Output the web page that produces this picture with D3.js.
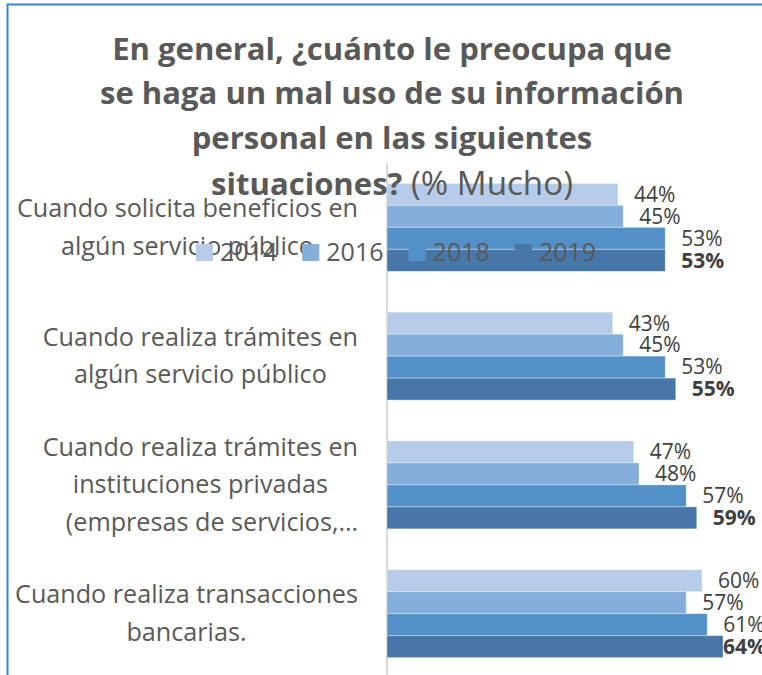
<!DOCTYPE html>
<html>
<head>
<meta charset="utf-8">
<script src="https://cdn.jsdelivr.net/npm/d3@7"></script>
<style>
  html, body { margin: 0; padding: 0; background: #fff; }
  svg { display: block; font-family: "Open Sans", "Noto Sans", sans-serif; }
</style>
</head>
<body>
<svg id="chart" width="762" height="675"></svg>
<script>
// --- Данные ---
const categories = [
  ["Cuando solicita beneficios en", "algún servicio público"],
  ["Cuando realiza trámites en", "algún servicio público"],
  ["Cuando realiza trámites en", "instituciones privadas", "(empresas de servicios,…"],
  ["Cuando realiza transacciones", "bancarias."]
];
const years = ["2014", "2016", "2018", "2019"];
const values2014 = [44, 43, 47, 60];
const values2016 = [45, 45, 48, 57];
const values2018 = [53, 53, 57, 61];
const values2019 = [53, 55, 59, 64];
const seriesValues = [values2014, values2016, values2018, values2019];
const colors = ["#b7cce8", "#85aedb", "#5390c8", "#4677a8"];
const titleLines = [
  "En general, ¿cuánto le preocupa que",
  "se haga un mal uso de su información",
  "personal en las siguientes"
];

const svg = d3.select("#chart");
const width = 762, height = 675;

svg.append("rect").attr("width", width).attr("height", height).attr("fill", "#fff");

// рамка
svg.append("path")
  .attr("d", `M7.5,${height + 5} V4.5 H${width + 5}`)
  .attr("fill", "none")
  .attr("stroke", "#3a86d4")
  .attr("stroke-width", 2);

const catIdx = categories.map((d, i) => i);

const x = d3.scaleLinear().domain([0, 70]).range([387, 754.5]);
const y = d3.scaleBand().domain(catIdx).range([163, 678]).paddingInner(0.317).paddingOuter(0.1585);
const ySub = d3.scaleBand().domain(years).range([0, y.bandwidth()]);

// ось
svg.append("line")
  .attr("x1", x(0)).attr("x2", x(0))
  .attr("y1", y.range()[0]).attr("y2", height + 5)
  .attr("stroke", "#d9d9d9")
  .attr("stroke-width", 2);

const groups = svg.selectAll("g.cat")
  .data(catIdx)
  .enter()
  .append("g")
  .attr("class", "cat")
  .attr("transform", i => `translate(0,${y(i)})`);

groups.selectAll("rect")
  .data(i => years.map((yr, s) => ({ yr, s, v: seriesValues[s][i] })))
  .enter()
  .append("rect")
  .attr("x", x(0))
  .attr("y", d => ySub(d.yr))
  .attr("width", d => x(d.v) - x(0))
  .attr("height", ySub.bandwidth())
  .attr("fill", d => colors[d.s])
  .attr("stroke", "rgba(255,255,255,0.35)")
  .attr("stroke-width", 1);

// подписи значений, не дальше правого края области графика
const plotRight = 766;
groups.selectAll("text.val")
  .data(i => years.map((yr, s) => ({ yr, s, v: seriesValues[s][i] })))
  .enter()
  .append("text")
  .attr("class", "val")
  .attr("y", d => ySub(d.yr) + ySub.bandwidth() / 2)
  .attr("dy", "0.35em")
  .style("font-size", "21px")
  .style("font-weight", d => d.s === 3 ? "bold" : "normal")
  .style("fill", "#404040")
  .text(d => `${d.v}%`)
  .attr("x", function(d) {
    const w = this.getComputedTextLength();
    return Math.min(x(d.v) + 16, plotRight - w);
  });

// подписи категорий (сжимаем по ширине, шрифт шире чем Calibri)
const labelRight = 358;
const labelSize = 25;
const probe = svg.append("text").style("font-size", labelSize + "px").text(categories[3][0]);
const kLabel = 343 / probe.node().getComputedTextLength();
probe.remove();

categories.forEach((lines, i) => {
  const cy = y(i) + y.bandwidth() / 2;
  const widths = lines.map(t => {
    const p = svg.append("text").style("font-size", labelSize + "px").text(t);
    const w = p.node().getComputedTextLength() * kLabel;
    p.remove();
    return w;
  });
  const maxW = d3.max(widths);
  const center = labelRight - maxW / 2;
  lines.forEach((t, j) => {
    const by = cy + (j - (lines.length - 1) / 2) * 37.5 + 8.5;
    const ell = t.endsWith("…");
    const tx = ell ? labelRight : center;
    svg.append("text")
      .attr("transform", `translate(${tx},${by}) scale(${kLabel},1)`)
      .attr("text-anchor", ell ? "end" : "middle")
      .style("font-size", labelSize + "px")
      .style("fill", "#595959")
      .text(t);
  });
});

// легенда
const legend = svg.append("g").attr("transform", "translate(196,244)");
years.forEach((yr, s) => {
  const g = legend.append("g").attr("transform", `translate(${s * 106.3},0)`);
  g.append("rect").attr("width", 17).attr("height", 17).attr("fill", colors[s]);
  g.append("text")
    .attr("x", 24).attr("y", 17)
    .style("font-size", "25px")
    .style("fill", "#595959")
    .text(yr);
});

// заголовок
const titleX = 392;
const titleSize = 30;
const tprobe = svg.append("text").style("font-size", titleSize + "px").style("font-weight", "bold").text(titleLines[0]);
const kTitle = 560 / tprobe.node().getComputedTextLength();
tprobe.remove();

const baselines = [59.5, 104, 148.5, 195];
titleLines.forEach((t, j) => {
  svg.append("text")
    .attr("transform", `translate(${titleX},${baselines[j]}) scale(${kTitle},1)`)
    .attr("text-anchor", "middle")
    .style("font-size", titleSize + "px")
    .style("font-weight", "bold")
    .style("fill", "#595959")
    .text(t);
});
const last = svg.append("text")
  .attr("transform", `translate(${titleX},${baselines[3]}) scale(${kTitle},1)`)
  .attr("text-anchor", "middle")
  .style("font-size", titleSize + "px")
  .style("fill", "#595959");
last.append("tspan").style("font-weight", "bold").text("situaciones?");
last.append("tspan").style("font-size", "32px").text(" (% Mucho)");
</script>
</body>
</html>
